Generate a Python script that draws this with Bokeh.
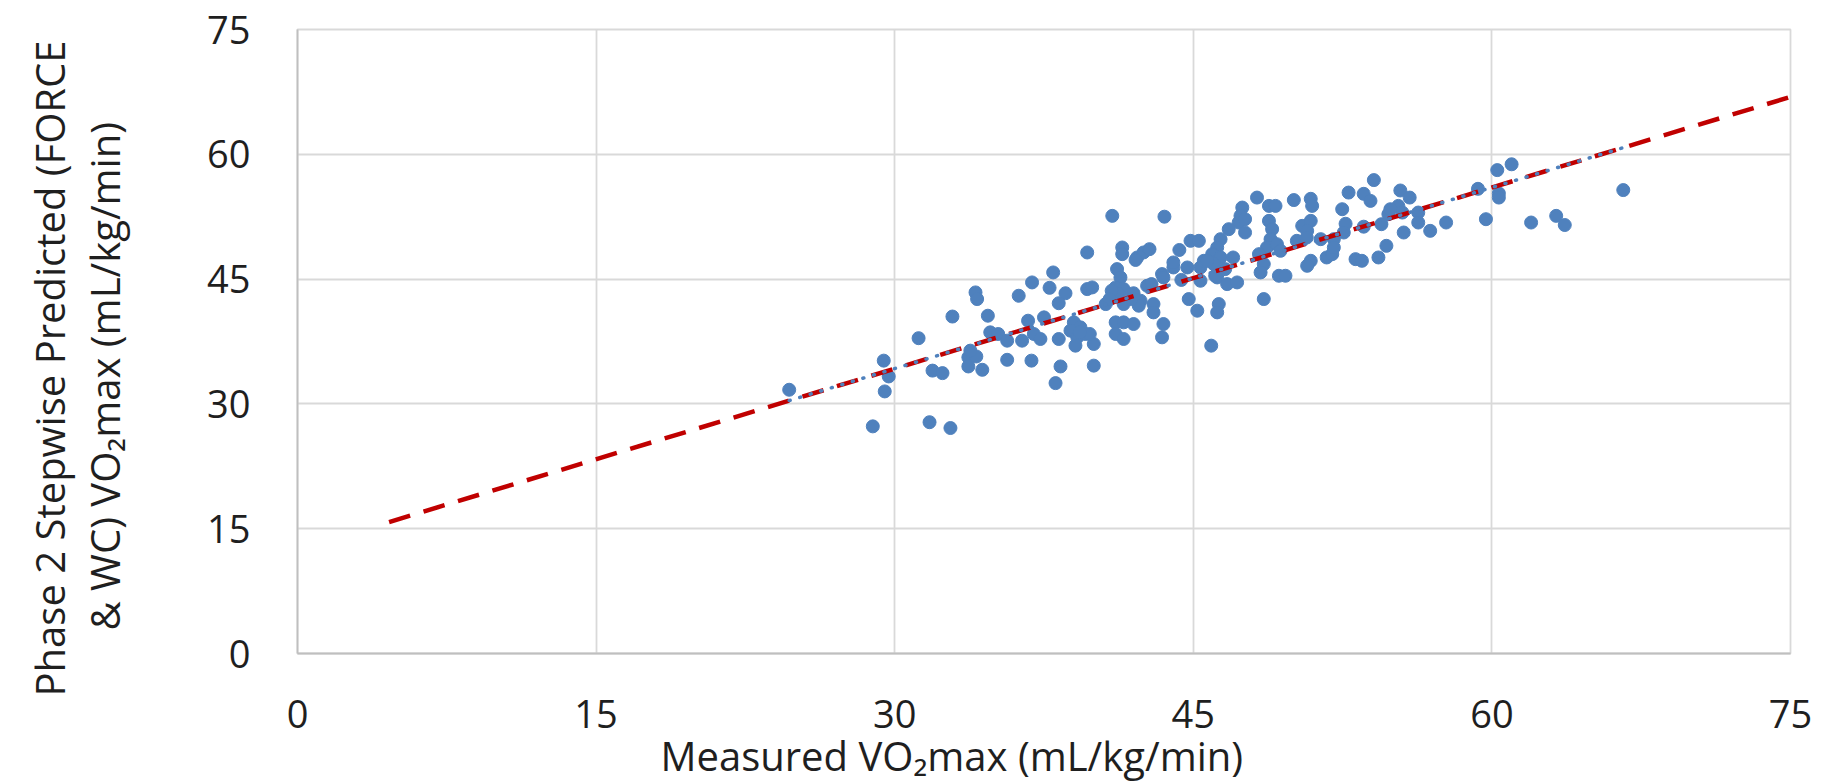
from bokeh.plotting import figure
from bokeh.models import Range1d, FixedTicker, Title
from bokeh.embed import file_html
from bokeh.resources import INLINE

# ---------------- data ----------------
measured = [
    24.7, 28.9, 29.45, 29.7, 29.5, 31.2, 31.9, 32.4, 31.75, 32.8,
    32.9, 33.7, 34.1, 33.7, 34.4, 34.8, 35.2, 34.06, 34.14, 33.8,
    35.65, 36.4, 36.99, 37.32, 38.24, 35.65, 36.87, 38.33, 38.08, 34.68,
    36.7, 37.5, 39.0, 39.33, 38.83, 39.17, 39.58, 39.08, 39.67, 37.96,
    36.9, 37.78, 36.23, 38.58, 38.24, 39.67,
    40.93, 43.55, 41.43, 41.43, 42.18, 42.5, 42.8, 44.3, 44.86, 45.28,
    44.0, 41.17, 41.34, 43.43, 43.5, 44.7, 45.36, 45.53, 39.92, 41.1,
    41.5, 41.26, 42.0, 42.68, 40.6, 41.5, 42.35, 42.26, 43.0, 43.0,
    44.77, 45.2, 45.36, 41.1, 41.5, 42.0, 41.1, 41.5, 43.5, 43.43,
    40.0, 40.0, 39.8, 45.9, 44.4, 42.9, 42.1, 40.9,
    48.2, 50.05, 50.9, 50.97, 47.46, 47.37, 47.28, 46.78, 46.37, 46.2,
    45.95, 47.6, 48.8, 49.13, 48.8, 48.96, 48.88, 48.7, 49.2, 49.38,
    48.3, 48.54, 48.38, 49.3, 49.63, 48.54, 50.47, 50.9, 50.72, 50.2,
    50.7, 50.9, 50.72, 51.7, 46.37, 46.03, 46.2, 46.7, 47.2, 46.6,
    47.0, 46.28, 46.2, 46.1, 45.7,
    54.07, 52.8, 53.56, 53.9, 55.4, 55.87, 52.48, 55.3, 55.5, 54.8,
    56.3, 56.3, 56.9, 57.7, 55.57, 54.45, 53.56, 52.65, 52.56, 52.06,
    51.98, 52.06, 54.7, 54.3, 53.15, 53.47,
    60.27, 60.99, 59.3, 60.35, 60.35, 66.6, 59.7, 61.97, 63.23, 63.66,
    39.3, 40.8, 41.9, 44.0, 47.6, 51.4, 54.9,
]
predicted = [
    31.7, 27.3, 35.2, 33.3, 31.5, 37.9, 34.0, 33.7, 27.8, 27.1,
    40.5, 35.6, 35.7, 34.5, 34.1, 38.6, 38.4, 43.4, 42.6, 36.4,
    37.6, 37.6, 38.4, 37.8, 37.8, 35.3, 35.2, 34.5, 32.5, 40.6,
    40.0, 40.4, 39.8, 39.2, 38.8, 38.0, 38.4, 37.0, 48.2, 45.8,
    44.6, 43.95, 43.0, 43.3, 42.1, 43.8,
    52.6, 52.5, 48.8, 48.0, 47.6, 48.2, 48.6, 48.5, 49.6, 49.6,
    46.4, 46.2, 45.2, 45.6, 45.2, 46.4, 46.4, 47.2, 44.0, 44.0,
    43.8, 43.2, 43.3, 44.2, 42.0, 42.0, 42.4, 41.8, 42.0, 41.0,
    42.6, 41.2, 44.8, 39.8, 39.8, 39.6, 38.4, 37.8, 39.6, 38.0,
    37.2, 34.6, 38.4, 37.0, 44.9, 44.4, 47.3, 43.6,
    54.8, 54.5, 54.65, 53.8, 53.6, 52.6, 51.8, 51.0, 49.8, 48.8,
    48.0, 50.6, 53.8, 53.8, 52.0, 51.0, 49.8, 48.8, 49.2, 48.4,
    48.0, 46.8, 45.8, 45.4, 45.4, 42.6, 51.4, 52.0, 50.8, 49.6,
    50.0, 47.2, 46.6, 47.6, 47.6, 46.8, 45.2, 44.4, 44.6, 46.2,
    47.6, 42.0, 41.0, 45.4, 47.2,
    56.9, 55.4, 55.25, 54.4, 55.65, 54.8, 53.4, 53.8, 53.0, 52.8,
    53.0, 51.8, 50.8, 51.8, 50.6, 51.6, 51.3, 51.65, 50.6, 49.8,
    48.0, 48.8, 49.0, 47.6, 47.4, 47.2,
    58.1, 58.8, 55.85, 55.3, 54.8, 55.7, 52.2, 51.8, 52.6, 51.5,
    38.6, 42.6, 42.6, 47.0, 52.2, 49.8, 53.4,
]

# red dashed reference line and blue dotted series trendline
ref_x = [4.6, 75.0]
ref_y = [15.8, 66.9]
fit_x = [24.7, 66.6]
fit_y = [30.4, 60.8]

ticks = [0, 15, 30, 45, 60, 75]

x_title = "Measured VO\u2082max (mL/kg/min)"
y_title_1 = "Phase 2 Stepwise Predicted (FORCE"
y_title_2 = "& WC) VO\u2082max (mL/kg/min)"

# ---------------- figure ----------------
FONT = "Open Sans"
TXT = "#1f1f1f"

p = figure(
    width=1828, height=781,
    frame_width=1493, frame_height=624,
    min_border_left=297, min_border_right=38,
    min_border_top=29, min_border_bottom=128,
    x_range=Range1d(0, 75), y_range=Range1d(0, 75),
    output_backend="svg", toolbar_location=None,
)
p.background_fill_color = "white"
p.border_fill_color = "white"
p.outline_line_color = "#D9D9D9"
p.outline_line_width = 1.8

for ax in (p.xaxis, p.yaxis):
    ax.ticker = FixedTicker(ticks=ticks)
    ax.major_tick_line_color = None
    ax.minor_tick_line_color = None
    ax.axis_line_color = "#BFBFBF"
    ax.axis_line_width = 1.8
    ax.major_label_text_font = FONT
    ax.major_label_text_font_size = "38px"
    ax.major_label_text_color = TXT

p.xaxis.major_label_standoff = 40
p.yaxis.major_label_standoff = 41


def make_title(text, offset, standoff):
    return Title(text=text, align="left", offset=offset, standoff=standoff,
                 text_font=FONT, text_font_size="40px",
                 text_font_style="normal", text_color=TXT)


# y-axis title: two lines, inner line added first
p.add_layout(make_title(y_title_2, 23, 146), "left")
p.add_layout(make_title(y_title_1, -43, -151), "left")
# x-axis title
p.add_layout(make_title(x_title, 363, -10), "below")

for g in (p.xgrid, p.ygrid):
    g.ticker = FixedTicker(ticks=ticks)
    g.grid_line_color = "#D9D9D9"
    g.grid_line_width = 1.8

p.scatter(measured, predicted, size=13, marker="circle",
          fill_color="#4F81BD", line_color="#4F81BD", line_width=1)

p.line(ref_x, ref_y, line_color="#C00000", line_width=4.5, line_dash="22 14")
p.line(fit_x, fit_y, line_color="#4F81BD", line_width=3.5, line_dash="1 10",
       line_cap="round")

open("out.html", "w").write(file_html(p, INLINE))
